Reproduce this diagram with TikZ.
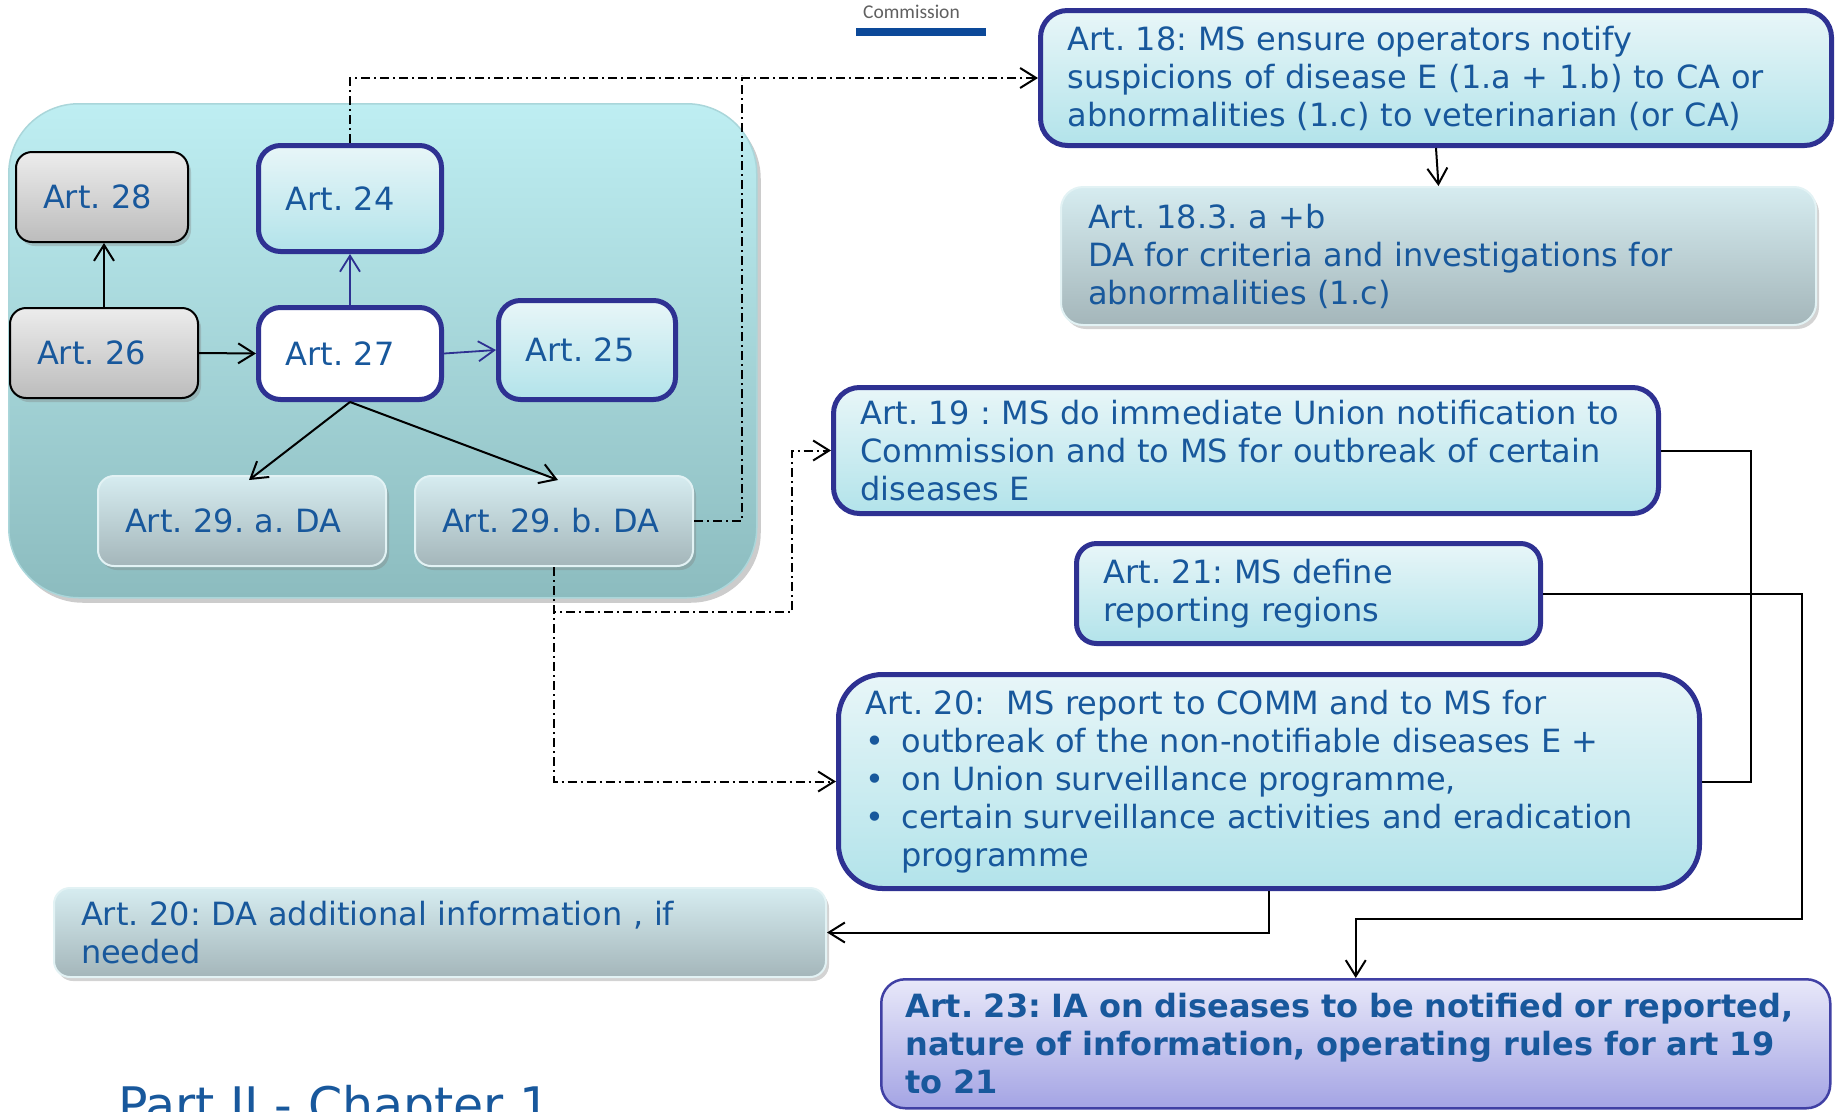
\documentclass[tikz,border=0pt]{standalone}
\usepackage{fontspec}
\setmainfont{DejaVu Sans}
\newfontfamily\commfont{Carlito}
\usepackage{xcolor}
\usetikzlibrary{arrows.meta,shadows}
\frenchspacing

\definecolor{artblue}{RGB}{24,88,156}
\definecolor{navyline}{RGB}{46,49,146}
\definecolor{boxtop}{RGB}{232,246,248}
\definecolor{boxbot}{RGB}{178,227,234}
\definecolor{graytop}{RGB}{236,236,236}
\definecolor{graybot}{RGB}{188,188,188}
\definecolor{datop}{RGB}{214,236,240}
\definecolor{dabot}{RGB}{164,182,186}
\definecolor{daedge}{RGB}{226,242,244}
\definecolor{iatop}{RGB}{232,232,249}
\definecolor{iabot}{RGB}{164,164,228}
\definecolor{iaedge}{RGB}{64,64,164}
\definecolor{paneltop}{RGB}{190,238,242}
\definecolor{panelbot}{RGB}{140,188,191}
\definecolor{paneledge}{RGB}{170,214,218}
\definecolor{commgray}{RGB}{96,96,96}
\definecolor{commbar}{RGB}{12,73,153}

\tikzset{
    art-box/.style = {draw=navyline, line width=5pt, rectangle, rounded corners=22pt, top color=boxtop, bottom color=boxbot, text=artblue, font=\fontsize{32}{38}\selectfont, align=left, inner xsep=27pt, inner ysep=0pt, anchor=north west},
    gray-box/.style = {art-box, draw=black, line width=2pt, rounded corners=16pt, top color=graytop, bottom color=graybot, drop shadow={shadow xshift=3pt, shadow yshift=-4pt, opacity=0.35}},
    da-box/.style = {art-box, draw=daedge, line width=2pt, rounded corners=16pt, top color=datop, bottom color=dabot, drop shadow={shadow xshift=3pt, shadow yshift=-4pt, opacity=0.35}},
    ia-box/.style = {art-box, draw=iaedge, line width=2.5pt, rounded corners=24pt, top color=iatop, bottom color=iabot, font=\fontsize{32}{38}\selectfont\bfseries, inner xsep=24pt},
    big-panel/.style = {draw=paneledge, line width=1.5pt, rectangle, rounded corners=70pt, top color=paneltop, bottom color=panelbot, anchor=north west, drop shadow={shadow xshift=4pt, shadow yshift=-5pt, opacity=0.4}},
    link/.style = {draw=black, line width=2pt},
    navy-link/.style = {draw=navyline, line width=1.8pt},
    dash-link/.style = {draw=black, line width=2pt, dash pattern=on 9pt off 4pt on 2pt off 4pt},
    >={Straight Barb[length=16pt,width=20pt]},
}

\begin{document}
\begin{tikzpicture}[x=1pt, y=-1pt]
\useasboundingbox (0,0) rectangle (1835,1111);
\clip (0,0) rectangle (1835,1111);

% header mark
\node[anchor=base west, inner sep=0pt, text=commgray, font=\commfont\fontsize{19.5}{22}\selectfont] (comm) at (863,18) {Commission};
\fill[commbar] (856,28) rectangle (986,35.5);

% left panel
\node[big-panel, minimum width=748pt, minimum height=494pt] (panel) at (8,103) {};
\node[gray-box, minimum width=172pt, minimum height=90pt, text width=118pt] (a28) at (15,151) {Art. 28};
\node[art-box, minimum width=183pt, minimum height=106pt, text width=129pt] (a24) at (256,143) {Art. 24};
\node[gray-box, minimum width=188pt, minimum height=90pt, text width=134pt] (a26) at (9,307) {Art. 26};
\node[art-box, top color=white, bottom color=white, minimum width=183pt, minimum height=92pt, text width=129pt] (a27) at (256,305) {Art. 27};
\node[art-box, minimum width=177pt, minimum height=99pt, text width=123pt] (a25) at (496,298) {Art. 25};
\node[da-box, minimum width=288pt, minimum height=90pt, text width=234pt] (a29a) at (97,475) {Art. 29. a. DA};
\node[da-box, minimum width=278pt, minimum height=90pt, text width=224pt] (a29b) at (414,475) {Art. 29. b. DA};

% right column
\node[art-box, rounded corners=27pt, minimum width=791pt, minimum height=135pt, text width=737pt] (a18) at (1038,8) {Art. 18: MS ensure operators notify\\suspicions of disease E (1.a + 1.b) to CA or\\abnormalities (1.c) to veterinarian (or CA)};
\node[da-box, rounded corners=22pt, minimum width=755pt, minimum height=138pt, text width=701pt] (a183) at (1060,186) {Art. 18.3. a +b\\DA for criteria and investigations for\\abnormalities (1.c)};
\node[art-box, rounded corners=26pt, minimum width=825pt, minimum height=126pt, text width=771pt] (a19) at (831,385) {Art. 19 : MS do immediate Union notification to\\Commission and to MS for outbreak of certain\\diseases E};
\node[art-box, rounded corners=20pt, minimum width=464pt, minimum height=100pt, text width=410pt] (a21) at (1074,541) {Art. 21: MS define\\reporting regions};
\node[art-box, rounded corners=44pt, minimum width=861pt, minimum height=214pt, text width=807pt] (a20) at (836,672) {Art. 20:\ \ MS report to COMM and to MS for\\\makebox[36pt][l]{•}outbreak of the non-notifiable diseases E +\\\makebox[36pt][l]{•}on Union surveillance programme,\\\makebox[36pt][l]{•}certain surveillance activities and eradication\\\hspace*{36pt}programme};
\node[da-box, minimum width=772pt, minimum height=89pt, text width=718pt] (a20da) at (53,887) {Art. 20: DA additional information , if\\needed};
\node[ia-box, minimum width=949pt, minimum height=129pt, text width=901pt] (a23) at (880,978) {Art. 23: IA on diseases to be notified or reported,\\nature of information, operating rules for art 19\\to 21};

\node[anchor=base west, inner sep=0pt, text=artblue, font=\fontsize{49}{58}\selectfont] (part) at (118,1122) {Part II - Chapter 1};

% links inside the panel
\draw[link, ->] (a26.north) -- (a26.north |- a28.south);
\draw[link, ->] (a26.east) -- (a27.west);
\draw[navy-link, ->] (a27.north) -- (a24.south);
\draw[navy-link, ->] (a27.east) -- (a25.west);
\draw[link, ->] (a27.south) -- ([xshift=7pt,yshift=-5pt]a29a.north);
\draw[link, ->] (a27.south) -- ([xshift=4pt,yshift=-5pt]a29b.north);

% dash-dot links
\draw[dash-link, ->] (a24.north) |- (a18.west);
\draw[dash-link] (a29b.east) -| (742,75);
\draw[dash-link, ->] (a29b.south) |- (792,612) |- (a19.west);
\draw[dash-link, ->] (a29b.south) |- (a20.west);

% right side links
\draw[link, ->] (a18.south) -- (a183.north);
\draw[link] (a19.east) -- ++(90,0) |- (a20.east);
\draw[link, ->] (a21.east) -| (1802,919) -| (a23.north);
\draw[link, ->] (a20.south) |- (a20da.east);
\end{tikzpicture}
\end{document}
